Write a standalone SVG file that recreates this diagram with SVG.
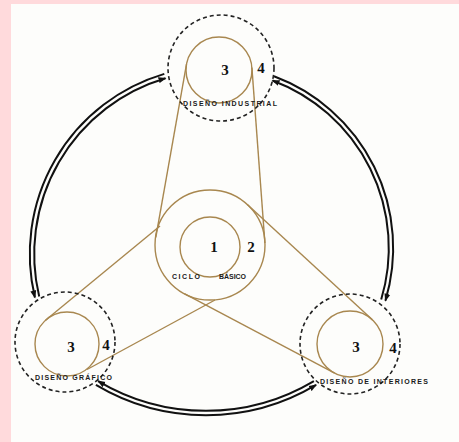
<svg xmlns="http://www.w3.org/2000/svg" width="459" height="442" viewBox="0 0 459 442">
<style>
.belt{fill:none;stroke:#a8874f;stroke-width:1.4}
.dash{fill:none;stroke:#222;stroke-width:1.6;stroke-dasharray:4 3}
.num{font-family:"Liberation Serif",serif;font-weight:bold;font-size:15px;fill:#111;text-anchor:middle}
.lbl{font-family:"Liberation Sans",sans-serif;font-weight:bold;font-size:7px;fill:#1a1a1a}
.arc{fill:none;stroke:#111;stroke-width:2}
</style>
<defs>
<marker id="ah" markerUnits="userSpaceOnUse" markerWidth="9" markerHeight="7" refX="7" refY="3.5" orient="auto">
<path d="M0,0.5 L8,3.5 L0,6.5 Z" fill="#111"/>
</marker>
</defs>
<rect x="0" y="0" width="459" height="442" fill="#fdfdfb"/>
<rect x="0" y="0" width="11" height="442" fill="#ffdadc"/>
<rect x="0" y="0" width="459" height="4" fill="#ffdadc"/>

<g id="connectors">
<path class="arc" d="M39.2 296.5 A183.4 183.4 0 0 1 165.5 78.2" marker-end="url(#ah)"/>
<path class="arc" d="M164.3 73.9 A187.8 187.8 0 0 0 34.9 297.5" marker-end="url(#ah)"/>
<path class="arc" d="M381.2 299.5 A178.8 178.8 0 0 0 272.5 80.5" marker-end="url(#ah)"/>
<path class="arc" d="M274.0 76.3 A183.2 183.2 0 0 1 385.4 300.7" marker-end="url(#ah)"/>
<path class="arc" d="M313.9 381.1 A210.8 210.8 0 0 1 98.1 381.1" marker-end="url(#ah)"/>
<path class="arc" d="M95.9 384.9 A215.2 215.2 0 0 0 316.1 384.9" marker-end="url(#ah)"/>
<line class="belt" x1="186.5" y1="64.2" x2="155.8" y2="237.4"/>
<line class="belt" x1="251.9" y1="67.6" x2="264.9" y2="243.0"/>
<line class="belt" x1="45.5" y1="320.3" x2="160" y2="226"/>
<line class="belt" x1="87" y1="369.5" x2="215" y2="300"/>
<line class="belt" x1="247.3" y1="204.5" x2="372.4" y2="319.7"/>
<line class="belt" x1="184.3" y1="293.6" x2="334.6" y2="373.2"/>
</g>

<g id="ciclo-basico">
<circle class="belt" cx="210" cy="245" r="55"/>
<circle class="belt" cx="210" cy="247" r="30"/>
<text class="num" x="214" y="252">1</text>
<text class="num" x="251" y="252">2</text>
<text class="lbl" x="172" y="279" textLength="28" lengthAdjust="spacing">CICLO</text>
<text class="lbl" x="219" y="279" textLength="27" lengthAdjust="spacing">BÁSICO</text>
</g>

<g id="diseno-industrial">
<circle class="dash" cx="221" cy="68" r="53"/>
<circle class="belt" cx="219" cy="70" r="33"/>
<text class="num" x="225" y="75">3</text>
<text class="num" x="261" y="73">4</text>
<text class="lbl" x="183" y="106" textLength="94" lengthAdjust="spacing">DISEÑO INDUSTRIAL</text>
</g>

<g id="diseno-grafico">
<circle class="dash" cx="65" cy="342" r="50"/>
<circle class="belt" cx="67" cy="344" r="32"/>
<text class="num" x="71" y="352">3</text>
<text class="num" x="106" y="350">4</text>
<text class="lbl" x="35" y="380" textLength="77" lengthAdjust="spacing">DISEÑO GRÁFICO</text>
</g>

<g id="diseno-interiores">
<circle class="dash" cx="350" cy="344" r="50"/>
<circle class="belt" cx="350" cy="344" r="33"/>
<text class="num" x="356" y="352">3</text>
<text class="num" x="393" y="353">4</text>
<text class="lbl" x="320" y="384" textLength="108" lengthAdjust="spacing">DISEÑO DE INTERIORES</text>
</g>
</svg>
